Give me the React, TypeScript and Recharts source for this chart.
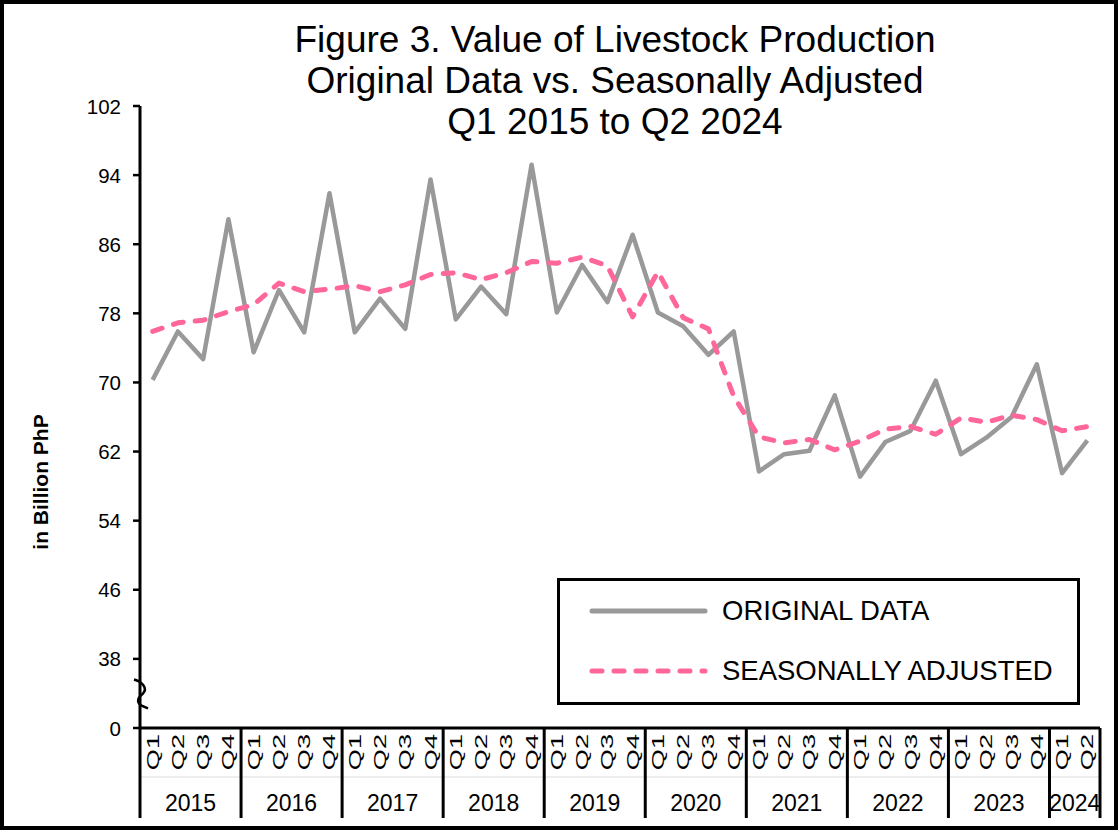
import React from 'react';
import { LineChart, Line, XAxis, YAxis, Legend, ReferenceLine } from 'recharts';

const years = ['2015', '2016', '2017', '2018', '2019', '2020', '2021', '2022', '2023', '2024'];
const quarters = ['Q1', 'Q2', 'Q3', 'Q4'];

// in billion PhP, Q1 2015 .. Q2 2024
const originalData = [
  70.3, 75.9, 72.7, 88.9,
  73.5, 80.7, 75.8, 91.9,
  75.8, 79.7, 76.2, 93.5,
  77.3, 81.1, 77.9, 95.2,
  78.1, 83.6, 79.3, 87.1,
  78.1, 76.5, 73.2, 75.9,
  59.7, 61.7, 62.1, 68.5,
  59.1, 63.1, 64.4, 70.2,
  61.7, 63.6, 66.0, 72.1,
  59.5, 63.3,
];
const seasonallyAdjusted = [
  75.9, 76.9, 77.2, 78.2,
  79.0, 81.5, 80.5, 80.8,
  81.2, 80.5, 81.3, 82.5,
  82.7, 81.9, 82.7, 84.0,
  83.8, 84.5, 83.5, 77.6,
  82.8, 77.5, 76.2, 68.4,
  63.7, 63.0, 63.4, 62.2,
  63.2, 64.6, 64.9, 64.0,
  65.9, 65.4, 66.2, 65.7,
  64.4, 64.9,
];

// axis is broken: the bottom tick (30) is shown as 0
const yTicks = [30, 38, 46, 54, 62, 70, 78, 86, 94, 102];
const yTickLabels = ['0', '38', '46', '54', '62', '70', '78', '86', '94', '102'];

const data = originalData.map((v, i) => ({
  key: years[Math.floor(i / 4)] + '-' + quarters[i % 4],
  year: years[Math.floor(i / 4)],
  quarter: quarters[i % 4],
  original: v,
  adjusted: seasonallyAdjusted[i],
}));

const FONT = '"Liberation Sans", Arial, sans-serif';
const W = 1118;
const H = 830;
const MARGIN = { top: 106, right: 18, bottom: 12, left: 80 };
const Y_AXIS_W = 60;
const X_AXIS_H = 90;
const PLOT_W = W - MARGIN.left - Y_AXIS_W - MARGIN.right;
const BAND = PLOT_W / data.length;

function QuarterTick(props: any) {
  const { x, y, payload } = props;
  const idx = data.findIndex((d) => d.key === payload.value);
  const d = data[idx];
  const first = idx === 0 || data[idx - 1].year !== d.year;
  const last = idx === data.length - 1;
  const count = data.filter((r) => r.year === d.year).length;
  const left = x - BAND / 2;
  return (
    <g fontFamily={FONT}>
      <line x1={left} x2={left + BAND} y1={y + 49} y2={y + 49} stroke="#dcdcdc" strokeWidth={1} />
      <text
        transform={`translate(${x},${y + 24}) rotate(-90) scale(1.6,1)`}
        textAnchor="middle"
        dominantBaseline="central"
        fontSize={17}
        fill="#000"
      >
        {d.quarter}
      </text>
      {first && <line x1={left} x2={left} y1={y} y2={y + 90} stroke="#000" strokeWidth={3} />}
      {last && <line x1={left + BAND} x2={left + BAND} y1={y} y2={y + 90} stroke="#000" strokeWidth={3} />}
      {first && (
        <text x={left + (count * BAND) / 2} y={y + 83} textAnchor="middle" fontSize={23} fill="#000">
          {d.year}
        </text>
      )}
    </g>
  );
}

function ValueTick(props: any) {
  const { x, y, payload } = props;
  return (
    <text
      x={x}
      y={y}
      textAnchor="end"
      dominantBaseline="central"
      fontFamily={FONT}
      fontSize={20.5}
      fill="#000"
    >
      {yTickLabels[yTicks.indexOf(payload.value)]}
    </text>
  );
}

function BreakMark(props: any) {
  const { viewBox } = props;
  const x = viewBox.x;
  const y = viewBox.y;
  return (
    <path
      d={`M ${x - 6} ${y - 14} C ${x + 2} ${y - 12}, ${x + 8} ${y - 5}, ${x + 3} ${y} C ${x - 2} ${y + 4}, ${x - 4} ${y + 8}, ${x + 1} ${y + 12} L ${x + 8} ${y + 15}`}
      fill="none"
      stroke="#000"
      strokeWidth={2.5}
    />
  );
}

function LegendBox(props: any) {
  const { payload } = props;
  return (
    <div
      style={{
        boxSizing: 'border-box',
        width: 523,
        height: 127,
        border: '3px solid #000',
        background: '#fff',
        fontFamily: FONT,
        fontSize: 27.5,
        color: '#000',
        paddingTop: 0,
      }}
    >
      {(payload || []).map((entry: any) => (
        <div key={entry.value} style={{ display: 'flex', alignItems: 'center', height: 60 }}>
          <svg width={162} height={20} style={{ flex: 'none' }}>
            <line
              x1={32}
              x2={145}
              y1={10}
              y2={10}
              stroke={entry.color}
              strokeWidth={5}
              strokeLinecap="round"
              strokeDasharray={entry.payload && entry.payload.strokeDasharray}
            />
          </svg>
          <span>{entry.value}</span>
        </div>
      ))}
    </div>
  );
}

export default function App() {
  return (
    <div
      style={{
        position: 'relative',
        width: W,
        height: H,
        boxSizing: 'border-box',
        border: '4px solid #000',
        background: '#fff',
        fontFamily: FONT,
      }}
    >
      <style>{`body { margin: 0; }`}</style>
      <div
        style={{
          position: 'absolute',
          left: 0,
          width: 1222,
          top: 15,
          textAlign: 'center',
          fontSize: 37,
          lineHeight: '41px',
          color: '#000',
          zIndex: 2,
          pointerEvents: 'none',
        }}
      >
        Figure 3. Value of Livestock Production
        <br />
        Original Data vs. Seasonally Adjusted
        <br />
        Q1 2015 to Q2 2024
      </div>
      <div
        style={{
          position: 'absolute',
          left: 37,
          top: 478,
          transform: 'translate(-50%, -50%) rotate(-90deg)',
          whiteSpace: 'nowrap',
          fontSize: 21,
          fontWeight: 'bold',
          color: '#000',
          zIndex: 2,
        }}
      >
        in Billion PhP
      </div>
      <div style={{ position: 'absolute', left: -4, top: -4 }}>
        <LineChart width={W} height={H} data={data} margin={MARGIN}>
          <XAxis
            dataKey="key"
            interval={0}
            height={X_AXIS_H}
            padding={{ left: BAND / 2, right: BAND / 2 }}
            tickLine={false}
            tickSize={0}
            tickMargin={0}
            axisLine={{ stroke: '#000', strokeWidth: 3 }}
            tick={<QuarterTick />}
          />
          <YAxis
            domain={[30, 102]}
            ticks={yTicks}
            interval={0}
            width={Y_AXIS_W}
            allowDataOverflow
            axisLine={{ stroke: '#000', strokeWidth: 3 }}
            tickLine={{ stroke: '#000', strokeWidth: 2.5 }}
            tickSize={7}
            tickMargin={12}
            tick={<ValueTick />}
          />
          <ReferenceLine y={34} stroke="none" label={(p: any) => <BreakMark {...p} />} />
          <Line
            name="ORIGINAL DATA"
            type="linear"
            dataKey="original"
            stroke="#999999"
            strokeWidth={4.5}
            strokeLinejoin="round"
            dot={false}
            isAnimationActive={false}
          />
          <Line
            name="SEASONALLY ADJUSTED"
            type="linear"
            dataKey="adjusted"
            stroke="#FF6699"
            strokeWidth={5}
            strokeDasharray="10 12"
            strokeLinecap="round"
            strokeLinejoin="round"
            dot={false}
            isAnimationActive={false}
          />
          <Legend
            layout="vertical"
            verticalAlign="middle"
            align="center"
            content={<LegendBox />}
            wrapperStyle={{ left: 557, top: 578, width: 523, height: 127, bottom: 'auto', right: 'auto' }}
          />
        </LineChart>
      </div>
    </div>
  );
}
